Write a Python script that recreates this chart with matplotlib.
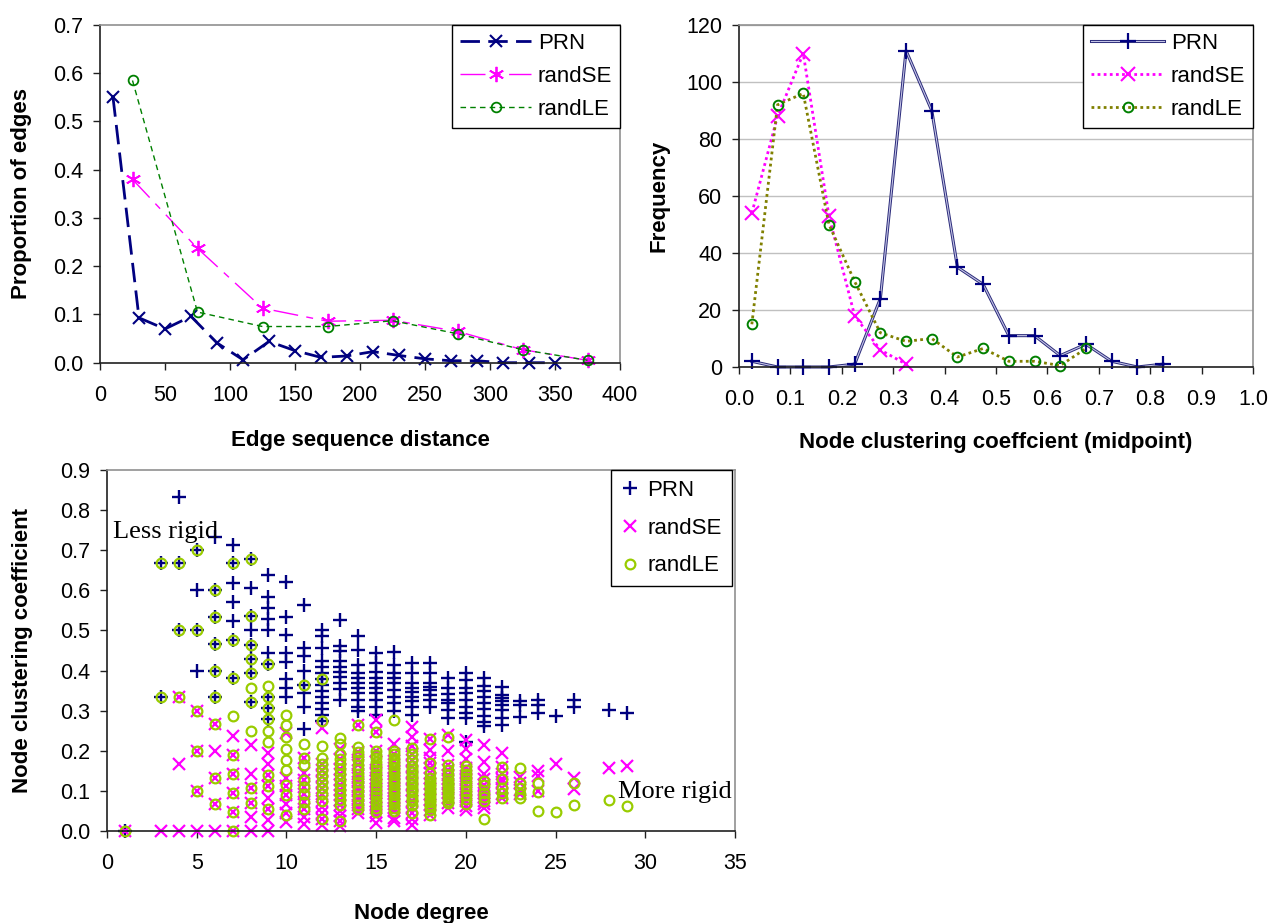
import matplotlib
matplotlib.use("Agg")
from matplotlib import pyplot as plt
from matplotlib.legend_handler import HandlerTuple

plt.rcParams["font.family"] = ["Liberation Sans", "DejaVu Sans"]

# --- top left: edge sequence distance ---
dist_prn = [10, 30, 50, 70, 90, 110, 130, 150, 170, 190, 210, 230, 250, 270, 290, 310, 330, 350]
prop_prn = [0.55, 0.093, 0.07, 0.096, 0.041, 0.006, 0.044, 0.025, 0.011, 0.014, 0.023, 0.015,
            0.008, 0.004, 0.004, 0.0, 0.0, 0.0]
dist_rand = [25, 75, 125, 175, 225, 275, 325, 375]
prop_se = [0.38, 0.237, 0.113, 0.086, 0.088, 0.065, 0.027, 0.005]
prop_le = [0.585, 0.105, 0.075, 0.075, 0.087, 0.06, 0.027, 0.005]

# --- top right: clustering coefficient histogram ---
mid_prn = [0.025, 0.075, 0.125, 0.175, 0.225, 0.275, 0.325, 0.375, 0.425, 0.475, 0.525,
           0.575, 0.625, 0.675, 0.725, 0.775, 0.825]
freq_prn = [2, 0, 0, 0, 1, 24, 111, 90, 35, 29, 11, 11, 4, 8, 2, 0, 1]
mid_se = [0.025, 0.075, 0.125, 0.175, 0.225, 0.275, 0.325]
freq_se = [54, 88, 110, 53, 18, 6, 1]
mid_le = [0.025, 0.075, 0.125, 0.175, 0.225, 0.275, 0.325, 0.375, 0.425, 0.475, 0.525,
          0.575, 0.625, 0.675]
freq_le = [15, 92, 96, 50, 30, 12, 9, 10, 3.5, 6.5, 2, 2, 0.5, 6.5]

# --- bottom: node degree vs clustering coefficient ---
degrees = [1, 3, 4, 5, 6, 7, 8, 9, 10, 11, 12, 13, 14, 15, 16, 17, 18, 19, 20, 21, 22, 23,
           24, 25, 26, 28, 29]
cc_prn = [
    [0.0],
    [0.667, 0.333],
    [0.833, 0.667, 0.5],
    [0.7, 0.6, 0.5, 0.4],
    [0.733, 0.6, 0.533, 0.467, 0.4, 0.333],
    [0.714, 0.667, 0.619, 0.571, 0.524, 0.476, 0.381],
    [0.679, 0.607, 0.536, 0.5, 0.464, 0.429, 0.393, 0.321],
    [0.639, 0.583, 0.556, 0.528, 0.5, 0.444, 0.417, 0.333, 0.306, 0.278],
    [0.622, 0.533, 0.489, 0.444, 0.422, 0.378, 0.356, 0.333],
    [0.564, 0.455, 0.436, 0.4, 0.364, 0.345, 0.309, 0.255],
    [0.5, 0.485, 0.455, 0.424, 0.409, 0.394, 0.379, 0.364, 0.348, 0.333, 0.318, 0.303, 0.288, 0.273],
    [0.526, 0.462, 0.449, 0.423, 0.41, 0.397, 0.385, 0.368, 0.353, 0.327],
    [0.487, 0.451, 0.414, 0.393, 0.381, 0.368, 0.356, 0.343, 0.327, 0.31, 0.298],
    [0.445, 0.42, 0.397, 0.381, 0.368, 0.356, 0.343, 0.327, 0.308, 0.289],
    [0.447, 0.414, 0.393, 0.381, 0.368, 0.352, 0.335, 0.318, 0.298],
    [0.418, 0.393, 0.368, 0.357, 0.347, 0.335, 0.324, 0.31, 0.289],
    [0.418, 0.393, 0.368, 0.36, 0.352, 0.34, 0.327, 0.31],
    [0.381, 0.356, 0.342, 0.327, 0.318, 0.302, 0.281],
    [0.393, 0.376, 0.356, 0.343, 0.327, 0.31, 0.293, 0.281, 0.223],
    [0.381, 0.362, 0.348, 0.333, 0.319, 0.305, 0.286, 0.271, 0.262],
    [0.36, 0.339, 0.331, 0.323, 0.314, 0.301, 0.281, 0.264],
    [0.323, 0.314, 0.285],
    [0.327, 0.314, 0.293],
    [0.287],
    [0.327, 0.31],
    [0.302],
    [0.293],
]
cc_se = [
    [0.0],
    [0.0],
    [0.333, 0.167, 0.0],
    [0.3, 0.2, 0.1, 0.0],
    [0.267, 0.2, 0.133, 0.067, 0.0],
    [0.238, 0.19, 0.143, 0.095, 0.048, 0.0],
    [0.214, 0.143, 0.107, 0.071, 0.036, 0.0],
    [0.194, 0.167, 0.139, 0.111, 0.083, 0.056, 0.028, 0.0],
    [0.244, 0.133, 0.111, 0.089, 0.067, 0.044, 0.022],
    [0.182, 0.145, 0.127, 0.109, 0.091, 0.073, 0.055, 0.036, 0.018],
    [0.258, 0.167, 0.152, 0.136, 0.121, 0.106, 0.091, 0.076, 0.061, 0.045, 0.03, 0.015],
    [0.205, 0.179, 0.154, 0.141, 0.128, 0.115, 0.103, 0.09, 0.077, 0.064, 0.051, 0.038, 0.026, 0.013],
    [0.264, 0.198, 0.176, 0.165, 0.143, 0.132, 0.121, 0.11, 0.099, 0.088, 0.077, 0.066, 0.055, 0.044],
    [0.276, 0.248, 0.2, 0.171, 0.152, 0.143, 0.133, 0.124, 0.114, 0.105, 0.095, 0.086, 0.076,
     0.067, 0.057, 0.048, 0.038, 0.019],
    [0.217, 0.192, 0.175, 0.158, 0.15, 0.142, 0.133, 0.125, 0.117, 0.108, 0.1, 0.092, 0.083,
     0.075, 0.067, 0.058, 0.05, 0.033, 0.025],
    [0.26, 0.235, 0.213, 0.191, 0.176, 0.162, 0.147, 0.132, 0.118, 0.103, 0.088, 0.074, 0.059,
     0.044, 0.029, 0.015],
    [0.229, 0.203, 0.183, 0.17, 0.157, 0.144, 0.131, 0.118, 0.105, 0.092, 0.078, 0.065, 0.052, 0.039],
    [0.24, 0.2, 0.164, 0.152, 0.14, 0.129, 0.117, 0.105, 0.094, 0.082, 0.07, 0.058],
    [0.226, 0.205, 0.179, 0.158, 0.147, 0.137, 0.126, 0.116, 0.105, 0.095, 0.084, 0.074, 0.063, 0.053],
    [0.214, 0.171, 0.143, 0.129, 0.114, 0.105, 0.095, 0.086, 0.076, 0.067, 0.057],
    [0.195, 0.16, 0.143, 0.13, 0.121, 0.108, 0.091, 0.082],
    [0.134, 0.119, 0.103, 0.091],
    [0.149, 0.138, 0.1],
    [0.167],
    [0.131, 0.105],
    [0.156],
    [0.163],
]
cc_le = [
    [0.0],
    [0.667, 0.333],
    [0.667, 0.5, 0.333],
    [0.7, 0.5, 0.3, 0.2, 0.1],
    [0.6, 0.533, 0.467, 0.4, 0.333, 0.267, 0.133, 0.067],
    [0.667, 0.476, 0.381, 0.286, 0.19, 0.143, 0.095, 0.048, 0.0],
    [0.679, 0.536, 0.464, 0.429, 0.393, 0.357, 0.321, 0.25, 0.107, 0.071],
    [0.417, 0.361, 0.333, 0.306, 0.278, 0.25, 0.222, 0.139, 0.111, 0.056],
    [0.289, 0.264, 0.235, 0.204, 0.177, 0.152, 0.115, 0.09, 0.04],
    [0.364, 0.218, 0.182, 0.164, 0.127, 0.109, 0.091, 0.073, 0.055],
    [0.379, 0.273, 0.212, 0.182, 0.167, 0.152, 0.136, 0.121, 0.106, 0.091, 0.076, 0.03],
    [0.231, 0.218, 0.192, 0.179, 0.167, 0.154, 0.141, 0.128, 0.115, 0.103, 0.09, 0.077, 0.064, 0.026],
    [0.264, 0.209, 0.198, 0.187, 0.176, 0.165, 0.154, 0.143, 0.132, 0.121, 0.11, 0.099, 0.088,
     0.077, 0.066, 0.055],
    [0.248, 0.2, 0.19, 0.181, 0.171, 0.162, 0.152, 0.143, 0.133, 0.124, 0.114, 0.105, 0.095,
     0.086, 0.076, 0.067, 0.057, 0.048],
    [0.277, 0.2, 0.192, 0.183, 0.175, 0.167, 0.158, 0.15, 0.142, 0.133, 0.125, 0.117, 0.108,
     0.1, 0.092, 0.083, 0.075, 0.067, 0.058, 0.05],
    [0.206, 0.191, 0.176, 0.162, 0.154, 0.147, 0.14, 0.132, 0.125, 0.118, 0.11, 0.103, 0.096,
     0.088, 0.081, 0.074, 0.066, 0.044],
    [0.229, 0.17, 0.144, 0.131, 0.124, 0.118, 0.111, 0.105, 0.098, 0.092, 0.085, 0.078, 0.072,
     0.065, 0.059, 0.052, 0.039],
    [0.234, 0.164, 0.152, 0.14, 0.129, 0.123, 0.117, 0.111, 0.105, 0.099, 0.094, 0.088, 0.082,
     0.076, 0.07],
    [0.163, 0.153, 0.142, 0.132, 0.121, 0.111, 0.1, 0.089, 0.079, 0.068],
    [0.124, 0.114, 0.095, 0.086, 0.076, 0.029],
    [0.16, 0.13, 0.108, 0.095, 0.082],
    [0.158, 0.119, 0.107, 0.091, 0.083],
    [0.119, 0.098, 0.051],
    [0.048],
    [0.12, 0.065],
    [0.077],
    [0.062],
]

NAVY = "#000080"
MAGENTA = "#FF00FF"
GREEN = "#008000"
OLIVE = "#808000"
LIME = "#99CC00"
TICK_FS = 15.5
LABEL_FS = 16


def flat(degs, vals):
    xs = [d for d, v in zip(degs, vals) for _ in v]
    ys = [c for v in vals for c in v]
    return xs, ys


def style_axes(ax):
    for side in ("left", "bottom"):
        ax.spines[side].set_color("#202020")
        ax.spines[side].set_linewidth(1.2)
    for side in ("top", "right"):
        ax.spines[side].set_color("#909090")
        ax.spines[side].set_linewidth(1.2)
    ax.tick_params(direction="out", length=5, width=1, labelsize=TICK_FS, color="#202020")
    ax.tick_params(axis="x", pad=11)
    ax.tick_params(axis="y", pad=7)


fig = plt.figure(figsize=(12.7, 9.23), dpi=100)

# ---------- top left ----------
ax1 = fig.add_axes([100 / 1270, 1 - 362.7 / 923, 520 / 1270, 337.7 / 923])
l1, = ax1.plot(dist_prn, prop_prn, color=NAVY, lw=2, ls=(0, (7, 3)), marker="x", ms=9,
               mew=1.5, clip_on=False, label="PRN")
l2, = ax1.plot(dist_rand, prop_se, color=MAGENTA, lw=1, ls=(0, (18, 6, 5, 6)),
               marker=(6, 2, 0), ms=11, mew=1.3, clip_on=False, label="randSE")
l3, = ax1.plot(dist_rand, prop_le, color=GREEN, lw=1, ls=(0, (4, 3)), marker="o", ms=7,
               mfc="none", mew=1.3, clip_on=False, label="randLE")
ax1.set_xlim(0, 400)
ax1.set_ylim(0, 0.7)
ax1.set_xticks(range(0, 401, 50))
ax1.set_yticks([i / 10 for i in range(8)])
ax1.set_yticklabels([f"{i / 10:.1f}" for i in range(8)])
style_axes(ax1)
ax1.set_xlabel("Edge sequence distance", fontsize=LABEL_FS, fontweight="bold")
ax1.set_ylabel("Proportion of edges", fontsize=LABEL_FS, fontweight="bold")
ax1.xaxis.set_label_coords(0.5, -0.2)
ax1.yaxis.set_label_coords(-0.13, 0.5)
leg = ax1.legend(loc="upper right", bbox_to_anchor=(1, 1), borderaxespad=0, fontsize=16,
                 handlelength=3.2, handletextpad=0.3, labelspacing=0.55, borderpad=0.35,
                 fancybox=False, framealpha=1, edgecolor="black")
leg.get_frame().set_linewidth(1)

# ---------- top right ----------
ax2 = fig.add_axes([739 / 1270, 1 - 367 / 923, 514 / 1270, 342 / 923])
ax2.yaxis.grid(True, color="#C0C0C0", lw=1)
ax2.set_axisbelow(True)
p_out, = ax2.plot(mid_prn, freq_prn, color="#2A2A7A", lw=2.2, clip_on=False)
p_in, = ax2.plot(mid_prn, freq_prn, color="#C4C4E6", lw=0.8, marker="+", ms=11, mew=1.6,
                 mec=NAVY, clip_on=False)
s2, = ax2.plot(mid_se, freq_se, color=MAGENTA, lw=2, ls=(0, (1, 1.2)), marker="x", ms=10,
               mew=1.5, clip_on=False)
t2, = ax2.plot(mid_le, freq_le, color=OLIVE, lw=2, ls=(0, (1, 1.2)), marker="o", ms=7,
               mfc="none", mec=GREEN, mew=1.4, clip_on=False)
ax2.set_xlim(0, 1)
ax2.set_ylim(0, 120)
ax2.set_xticks([i / 10 for i in range(11)])
ax2.set_xticklabels([f"{i / 10:.1f}" for i in range(11)])
ax2.set_yticks(range(0, 121, 20))
style_axes(ax2)
ax2.set_xlabel("Node clustering coeffcient (midpoint)", fontsize=LABEL_FS, fontweight="bold")
ax2.set_ylabel("Frequency", fontsize=LABEL_FS, fontweight="bold")
ax2.xaxis.set_label_coords(0.5, -0.19)
ax2.yaxis.set_label_coords(-0.135, 0.5)
leg2 = ax2.legend([(p_out, p_in), s2, t2], ["PRN", "randSE", "randLE"],
                  handler_map={tuple: HandlerTuple(ndivide=1)},
                  loc="upper right", bbox_to_anchor=(1, 1), borderaxespad=0, fontsize=16,
                  handlelength=3.3, handletextpad=0.3, labelspacing=0.55, borderpad=0.35,
                  fancybox=False, framealpha=1, edgecolor="black")
leg2.get_frame().set_linewidth(1)

# ---------- bottom ----------
ax3 = fig.add_axes([107 / 1270, 1 - 831 / 923, 628 / 1270, 361 / 923])
x_prn, y_prn = flat(degrees, cc_prn)
x_se, y_se = flat(degrees, cc_se)
x_le, y_le = flat(degrees, cc_le)
ax3.plot(x_prn, y_prn, ls="none", marker="+", ms=9.5, mew=1.7, color=NAVY, clip_on=False,
         label="PRN")
ax3.plot(x_se, y_se, ls="none", marker="x", ms=8.5, mew=1.6, color=MAGENTA, clip_on=False,
         label="randSE")
ax3.plot(x_le, y_le, ls="none", marker="o", ms=7, mew=1.6, mfc="none", mec=LIME,
         clip_on=False, label="randLE")
ax3.set_xlim(0, 35)
ax3.set_ylim(0, 0.9)
ax3.set_xticks(range(0, 36, 5))
ax3.set_yticks([i / 10 for i in range(10)])
ax3.set_yticklabels([f"{i / 10:.1f}" for i in range(10)])
style_axes(ax3)
ax3.set_xlabel("Node degree", fontsize=LABEL_FS, fontweight="bold")
ax3.set_ylabel("Node clustering coefficient", fontsize=LABEL_FS, fontweight="bold")
ax3.xaxis.set_label_coords(0.5, -0.2)
ax3.yaxis.set_label_coords(-0.118, 0.5)
ax3.text(0.33, 0.73, "Less rigid", fontsize=19, family="Liberation Serif")
ax3.text(28.5, 0.082, "More rigid", fontsize=19, family="Liberation Serif")
leg3 = ax3.legend(loc="upper right", bbox_to_anchor=(0.995, 1), borderaxespad=0, fontsize=16,
                  handlelength=0.8, handletextpad=0.4, labelspacing=0.75, borderpad=0.45,
                  fancybox=False, framealpha=1, edgecolor="black")
leg3.get_frame().set_linewidth(1)

fig.savefig("out.png", dpi=100)
